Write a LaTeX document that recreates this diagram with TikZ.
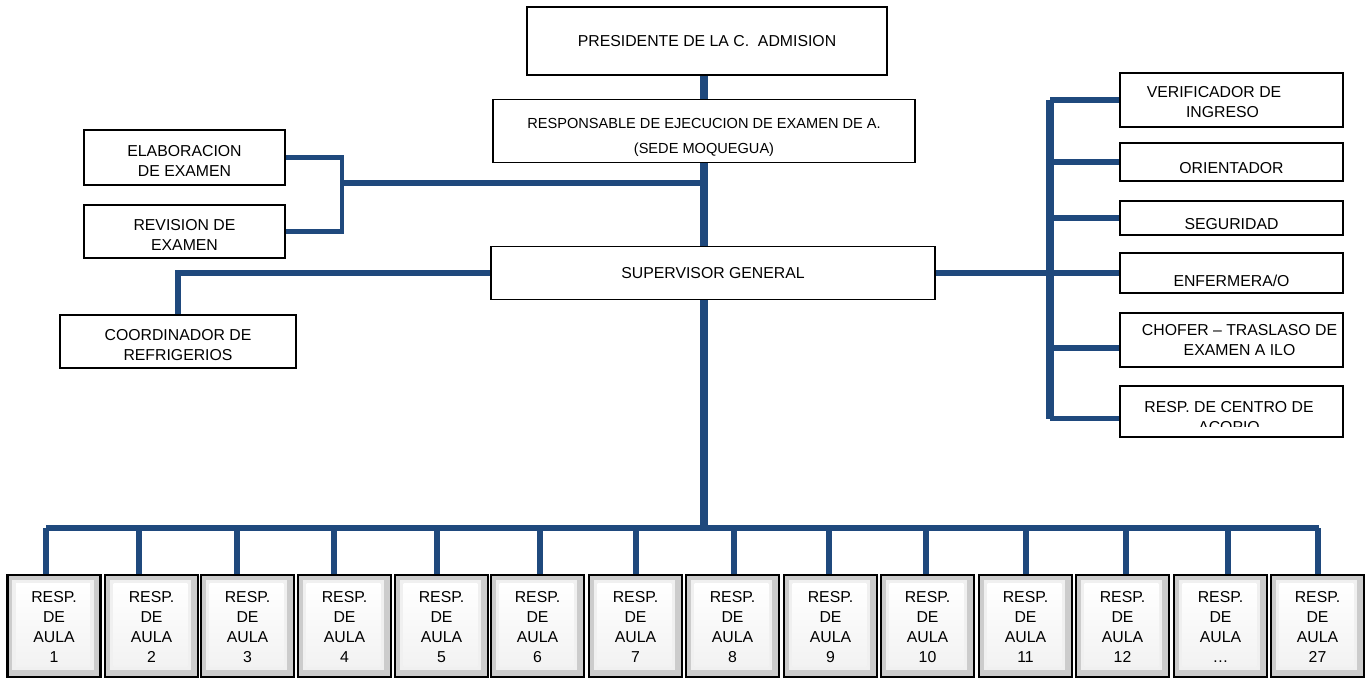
\documentclass[tikz,border=0pt]{standalone}
\usepackage{fontspec}
\setmainfont{Liberation Sans}
\usetikzlibrary{positioning,calc}
\definecolor{linkblue}{RGB}{31,73,125}
\tikzset{
  orgbox/.style={draw=black, line width=1.1pt, fill=white, align=center, inner sep=1pt},
  aulabox/.style={draw=black, line width=1.6pt, minimum width=1.86cm, minimum height=2.04cm,
    fill=gray!40, align=center, inner sep=0pt},
  link/.style={draw=linkblue, line width=2.9pt},
  droplink/.style={draw=linkblue, line width=3.4pt},
  trunk/.style={draw=linkblue, line width=4.2pt},
  thinlink/.style={draw=linkblue, line width=2.3pt}
}
\newcommand{\lowtop}{\rule{0pt}{10pt}}
\begin{document}
\begin{tikzpicture}[font=\fontsize{9}{11.4}\selectfont, line join=miter]
\useasboundingbox (0,0) rectangle (27.4,-13.54);
% upper chain
\node[orgbox, minimum width=7.2cm, minimum height=1.36cm] (pres) at (14.14,-0.82) {PRESIDENTE DE LA C.\ \ ADMISION};
\node[orgbox, minimum width=8.44cm, minimum height=1.26cm, font=\fontsize{8.3}{11}\selectfont] (resp) at (14.08,-2.62) {\rule{0pt}{13.5pt}RESPONSABLE DE EJECUCION DE EXAMEN DE A.\\[3.2pt](SEDE MOQUEGUA)};
\node[orgbox, minimum width=8.88cm, minimum height=1.06cm] (sup) at (14.26,-5.46) {SUPERVISOR GENERAL};
% left side
\node[orgbox, minimum width=4.02cm, minimum height=1.1cm] (elab) at (3.69,-3.15) {\lowtop ELABORACION\\DE EXAMEN};
\node[orgbox, minimum width=4.02cm, minimum height=1.06cm] (rev) at (3.69,-4.63) {\lowtop REVISION DE\\EXAMEN};
\node[orgbox, minimum width=4.72cm, minimum height=1.06cm] (coord) at (3.56,-6.83) {\lowtop COORDINADOR DE\\REFRIGERIOS};
% right side
\node[orgbox, minimum width=4.46cm, minimum height=1.08cm] (verif) at (24.63,-2.0) {\raisebox{-2pt}[7pt][2pt]{VERIFICADOR DE}\hspace*{0.7cm}\\\raisebox{-2pt}[7pt][2pt]{INGRESO}\hspace*{0.36cm}};
\node[orgbox, minimum width=4.46cm, minimum height=0.76cm] (orient) at (24.63,-3.24) {\raisebox{-3.9pt}[7pt][2pt]{ORIENTADOR}};
\node[orgbox, minimum width=4.46cm, minimum height=0.68cm] (segur) at (24.63,-4.36) {\raisebox{-3.9pt}[7pt][2pt]{SEGURIDAD}};
\node[orgbox, minimum width=4.46cm, minimum height=0.8cm] (enferm) at (24.63,-5.46) {\raisebox{-4.9pt}[7pt][2pt]{ENFERMERA/O}};
\node[orgbox, minimum width=4.46cm, minimum height=1.08cm] (chofer) at (24.63,-6.8) {\hspace*{0.32cm}CHOFER -- TRASLASO DE\\\hspace*{0.32cm}EXAMEN A ILO};
\node[orgbox, minimum width=4.46cm, minimum height=1.02cm] (acopio) at (24.63,-8.23) {};
\begin{scope}
  \clip (22.5,-7.80) rectangle (26.8,-8.52);
  \node[align=center, inner sep=0pt] (acopiotxt) at (24.58,-8.34) {RESP. DE CENTRO DE\\ACOPIO};
\end{scope}
% aulas
\foreach \i/\x/\d/\t in {1/1.08/-0.16/1, 2/3.03/-0.25/2, 3/4.95/-0.21/3, 4/6.89/-0.21/4, 5/8.83/-0.09/5,
  6/10.75/0.05/6, 7/12.71/0.01/7, 8/14.65/0.03/8, 9/16.61/-0.03/9, 10/18.55/-0.03/10,
  11/20.51/0.01/11, 12/22.45/0.07/12, 13/24.41/0.15/\ldots, 14/26.35/0.01/27}
{
  \node[aulabox] (a\i) at (\x,-12.52) {};
  \fill[gray!12] ([shift={(0.12,-0.12)}]a\i.north west) rectangle ([shift={(-0.16,0.16)}]a\i.south east);
  \shade[top color=white, bottom color=gray!10] ([shift={(0.2,-0.2)}]a\i.north west) rectangle ([shift={(-0.24,0.24)}]a\i.south east);
  \node[align=center, inner sep=0pt] (t\i) at ([yshift=-0.02cm]a\i.center) {RESP.\\DE\\AULA\\\t};
  \draw[droplink] ([xshift=\d cm]a\i.north) -- ([xshift=\d cm]a\i.north |- 0,-10.56);
}
% connectors
\path (6.84,-3.66) coordinate (br) (21.0,0) coordinate (rs) (0.92,-10.56) coordinate (busL) (26.38,-10.56) coordinate (busR);
\draw[trunk] (resp.south |- pres.south) -- (resp.north);
\draw[trunk] (resp.south) -- (resp.south |- sup.north);
\draw[thinlink] (elab.east) -| (br |- rev.east) -- (rev.east);
\draw[link] (br) -- (resp.south |- br);
\draw[link] (sup.west) -| (coord.north);
\draw[link] (sup.east) -- (rs |- sup.east);
\draw[trunk] (rs |- verif.west) -- ($(rs |- acopio.west)+(0,-0.14)$);
\foreach \b in {verif,orient,segur,enferm}
  \draw[link] (rs |- \b.west) -- (\b.west);
\draw[link] ($(rs |- chofer.west)+(0,-0.16)$) -- ($(chofer.west)+(0,-0.16)$);
\draw[link] ($(rs |- acopio.west)+(0,-0.14)$) -- ($(acopio.west)+(0,-0.14)$);
\draw[trunk] (resp.south |- sup.south) -- (resp.south |- busL);
\draw[link] (busL) -- (busR);
\end{tikzpicture}
\end{document}
